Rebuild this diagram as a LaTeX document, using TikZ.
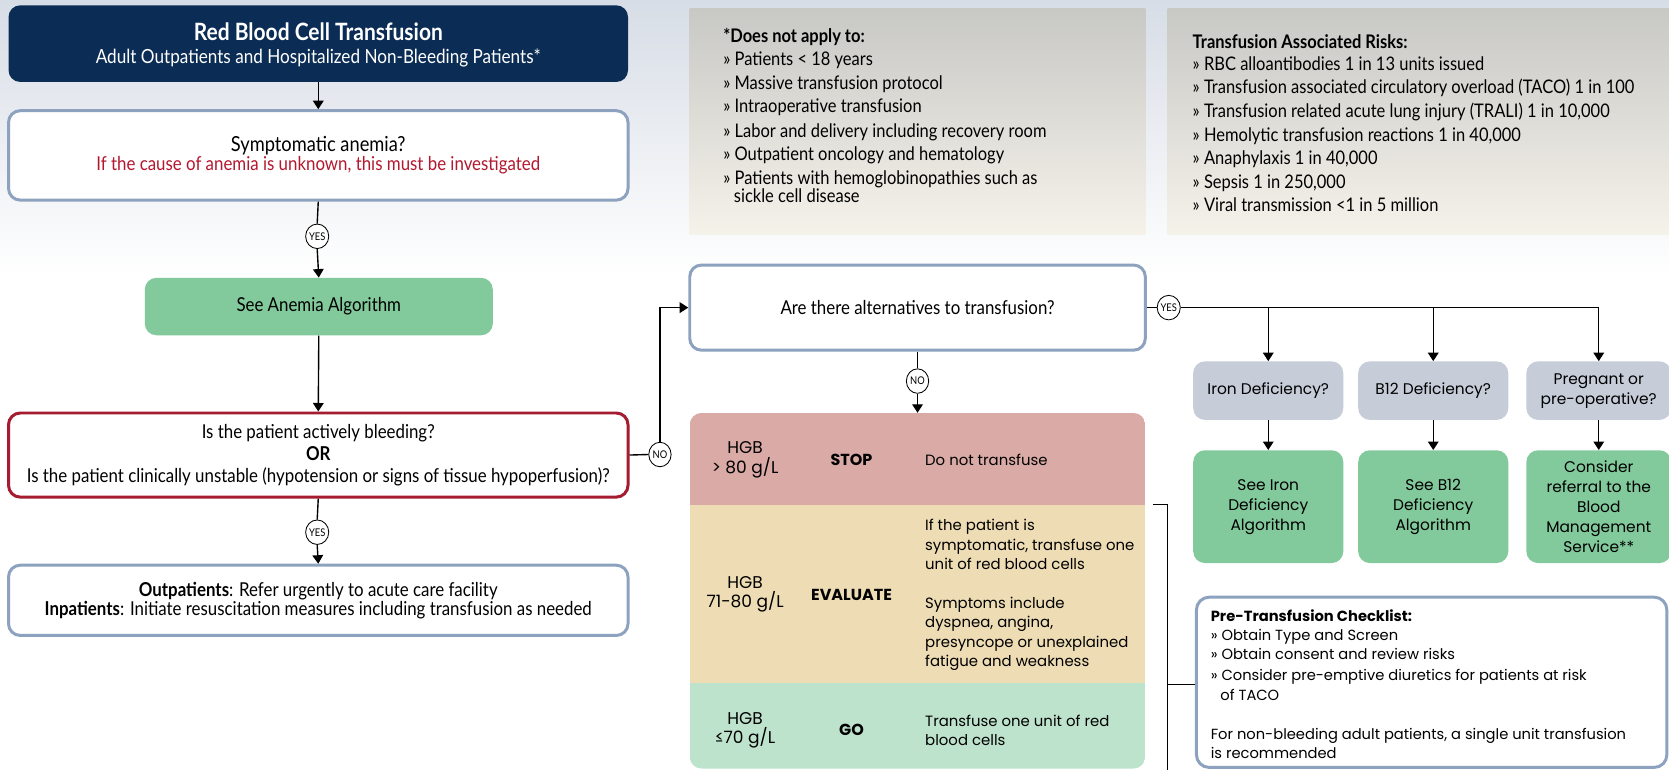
\documentclass[tikz,border=0pt]{standalone}
\usepackage{fontspec}
\setmainfont{Lato}
\newfontfamily\condensed[FakeStretch=0.88]{Lato}
\newfontfamily\geom{Poppins}
\usetikzlibrary{arrows.meta,shapes.geometric}

\definecolor{navy}{HTML}{0B2D55}
\definecolor{frameblue}{HTML}{8DA2BF}
\definecolor{alertred}{HTML}{A51C30}
\definecolor{textred}{HTML}{B3182E}
\definecolor{algogreen}{HTML}{82CA9C}
\definecolor{querygray}{HTML}{C6CDD9}
\definecolor{stoprow}{HTML}{D9AAA6}
\definecolor{evalrow}{HTML}{EDDCB4}
\definecolor{gorow}{HTML}{BEE3CD}
\definecolor{notetop}{HTML}{C8C8C5}
\definecolor{notebottom}{HTML}{F5F2EA}
\definecolor{skytop}{HTML}{D7DDE6}

\newcommand{\fsz}[2]{\fontsize{#1}{#2}\selectfont}

\begin{document}
\begin{tikzpicture}[x=1pt,y=-1pt,
  flow/.style={draw=black, line width=1.3pt, -{Triangle[width=10pt,length=8pt]}},
  link/.style={draw=black, line width=1.3pt},
  box/.style={rectangle, rounded corners=11pt, align=center, inner sep=0pt},
  framed/.style={box, draw=frameblue, line width=2.8pt, fill=white},
  alert/.style={box, draw=alertred, line width=2.8pt, fill=white},
  greenbox/.style={box, fill=algogreen},
  graybox/.style={box, fill=querygray},
  tag/.style={ellipse, draw=black, line width=0.8pt, fill=white, minimum width=21pt,
    minimum height=23pt, inner sep=0pt, font=\condensed\fsz{10}{11}},
  body/.style={font=\condensed\fsz{18}{20.5}, text=black},
  side/.style={font=\geom\fsz{14.5}{18.8}, text=black},
  listline/.style={anchor=base west, font=\condensed\fsz{17.6}{18}},
  cell/.style={font=\geom\fsz{16}{18.3}, align=center, inner sep=0pt},
  cellkey/.style={font=\geom\bfseries\fsz{15}{18}, inner sep=0pt},
  celltext/.style={font=\geom\fsz{14}{18.3}, align=left, anchor=west, inner sep=0pt},
  checkline/.style={anchor=base west, font=\geom\fsz{13.8}{18}},
  note/.style={top color=notetop, bottom color=notebottom},
]
\useasboundingbox (0,0) rectangle (1568,723);

% page background
\fill[white] (0,0) rectangle (1568,723);
\shade[top color=skytop, bottom color=white] (0,0) rectangle (1568,260);

% ---------- left column ----------
\node[box, fill=navy, minimum width=582, minimum height=72] (title) at (299,41) {};
\node[font=\condensed\bfseries\fsz{22.4}{25}, text=white] at (299,30) {Red Blood Cell Transfusion};
\node[font=\condensed\fsz{18.3}{20}, text=white] at (299,54) {Adult Outpatients and Hospitalized Non-Bleeding Patients*};

\node[framed, minimum width=582, minimum height=84, body, font=\condensed\fsz{18}{17.5}] (sym) at (299,146)
  {{\fsz{19.5}{17.5}Symptomatic anemia?}\\ \textcolor{textred}{If the cause of anemia is unknown, this must be investigated}};

\node[tag] (yes1) at (298,222) {YES};

\node[greenbox, minimum width=327, minimum height=54, body] (anemia) at (299.5,288) {See Anemia Algorithm};

\node[alert, minimum width=582, minimum height=79, body] (bleed) at (299,427.5)
  {Is the patient actively bleeding?\\ \textbf{OR}\\ Is the patient clinically unstable (hypotension or signs of tissue hypoperfusion)?};

\node[tag] (yes2) at (298,500) {YES};

\node[framed, minimum width=582, minimum height=66, body, font=\condensed\fsz{18}{18}] (outp) at (299,564)
  {\textbf{Outpatients}: Refer urgently to acute care facility\\ \textbf{Inpatients}: Initiate resuscitation measures including transfusion as needed};

\node[tag] (no1) at (620,427) {NO};

% ---------- information panels ----------
\shade[note] (648,8) rectangle (1076,220);
\node[listline] at (676,40) {\textbf{*Does not apply to:}};
\node[listline] at (676,62) {» Patients < 18 years};
\node[listline] at (676,84) {» Massive transfusion protocol};
\node[listline] at (676,106) {» Intraoperative transfusion};
\node[listline] at (676,129) {» Labor and delivery including recovery room};
\node[listline] at (676,151) {» Outpatient oncology and hematology};
\node[listline] at (676,173) {» Patients with hemoglobinopathies such as};
\node[listline] at (686,190) {sickle cell disease};

\shade[note] (1097,8) rectangle (1568,220);
\node[listline] at (1117,46) {\textbf{Transfusion Associated Risks:}};
\node[listline] at (1117,66) {» RBC alloantibodies 1 in 13 units issued};
\node[listline] at (1117,88) {» Transfusion associated circulatory overload (TACO) 1 in 100};
\node[listline] at (1117,110) {» Transfusion related acute lung injury (TRALI) 1 in 10,000};
\node[listline] at (1117,133) {» Hemolytic transfusion reactions 1 in 40,000};
\node[listline] at (1117,155) {» Anaphylaxis 1 in 40,000};
\node[listline] at (1117,177) {» Sepsis 1 in 250,000};
\node[listline] at (1117,199) {» Viral transmission <1 in 5 million};

% ---------- alternatives ----------
\node[framed, minimum width=428, minimum height=80, body] (alt) at (862,289) {Are there alternatives to transfusion?};
\node[tag] (yes3) at (1098,289) {YES};
\node[tag] (no2) at (862,358) {NO};

\node[graybox, minimum width=141, minimum height=55, side] (iron) at (1191.5,367) {Iron Deficiency?};
\node[graybox, minimum width=141, minimum height=55, side] (b12) at (1346.5,367) {B12 Deficiency?};
\node[graybox, minimum width=136, minimum height=55, side] (preg) at (1502,367) {Pregnant or\\pre-operative?};

\node[greenbox, minimum width=141, minimum height=106, side] (irona) at (1191.5,476) {See Iron\\Deficiency\\Algorithm};
\node[greenbox, minimum width=141, minimum height=106, side] (b12a) at (1346.5,476) {See B12\\Deficiency\\Algorithm};
\node[greenbox, minimum width=136, minimum height=106, side] (pbm) at (1502,476) {Consider\\referral to the\\Blood\\Management\\Service**};

% ---------- haemoglobin thresholds ----------
\begin{scope}
  \clip[rounded corners=11pt] (648,388) rectangle (1076,722);
  \node[fill=stoprow, minimum width=428, minimum height=86, inner sep=0pt] (stop) at (862,431) {};
  \node[fill=evalrow, minimum width=428, minimum height=168, inner sep=0pt] (eval) at (862,558) {};
  \node[fill=gorow, minimum width=428, minimum height=80, inner sep=0pt] (go) at (862,682) {};
\end{scope}

\node[cell] at (700,432) {HGB\\> 80 g/L};
\node[cellkey] at (800,432) {STOP};
\node[celltext] at (869,432) {Do not transfuse};

\node[cell] at (700,558.5) {HGB\\71-80 g/L};
\node[cellkey] at (800,559) {EVALUATE};
\node[celltext] at (869,559) {If the patient is\\symptomatic, transfuse one\\unit of red blood cells\\[18.3pt]Symptoms include\\dyspnea, angina,\\presyncope or unexplained\\fatigue and weakness};

\node[cell] at (700,686) {HGB\\≤70 g/L};
\node[cellkey] at (800,686) {GO};
\node[celltext] at (869,686) {Transfuse one unit of red\\blood cells};

% ---------- checklist ----------
\node[framed, rounded corners=12pt, minimum width=442, minimum height=160] (check) at (1345,641) {};
\node[checkline] at (1134,584) {\textbf{Pre-Transfusion Checklist:}};
\node[checkline] at (1134,602) {» Obtain Type and Screen};
\node[checkline] at (1134,620) {» Obtain consent and review risks};
\node[checkline] at (1134,639) {» Consider pre-emptive diuretics for patients at risk};
\node[checkline] at (1143,658) {of TACO};
\node[checkline] at (1134,695) {For non-bleeding adult patients, a single unit transfusion};
\node[checkline] at (1134,713) {is recommended};

% ---------- connectors ----------
\draw[flow] (title.south) -- (sym.north);
\draw[link] (sym.south) -- (yes1.north);
\draw[flow] (yes1.south) -- (anemia.north);
\draw[flow] (anemia.south) -- (bleed.north);
\draw[link] (bleed.south) -- (yes2.north);
\draw[flow] (yes2.south) -- (outp.north);
\draw[link] (bleed.east) -- (no1.west);
\draw[flow] (no1.north) |- (alt.west);

\draw[link] (alt.south) -- (no2.north);
\draw[flow] (no2.south) -- (stop.north);

\draw[link] (alt.east) -- (yes3.west);
\draw[link] (yes3.east) -- (preg.north |- yes3.east);
\draw[flow] (iron.north |- yes3.east) -- (iron.north);
\draw[flow] (b12.north |- yes3.east) -- (b12.north);
\draw[flow] (preg.north |- yes3.east) -- (preg.north);
\draw[flow] (iron.south) -- (irona.north);
\draw[flow] (b12.south) -- (b12a.north);
\draw[flow] (preg.south) -- (pbm.north);

% bracket joining the transfusion rows to the checklist
\coordinate (brtop) at (1083,474);
\coordinate (brcorner) at (1097,474);
\coordinate (brfoot) at (1097,723);
\coordinate (brjoin) at (1097,643);
\draw[link] (brtop) -- (brcorner) -- (brfoot);
\draw[link] (brjoin) -- (check.west |- brjoin);
\end{tikzpicture}
\end{document}
